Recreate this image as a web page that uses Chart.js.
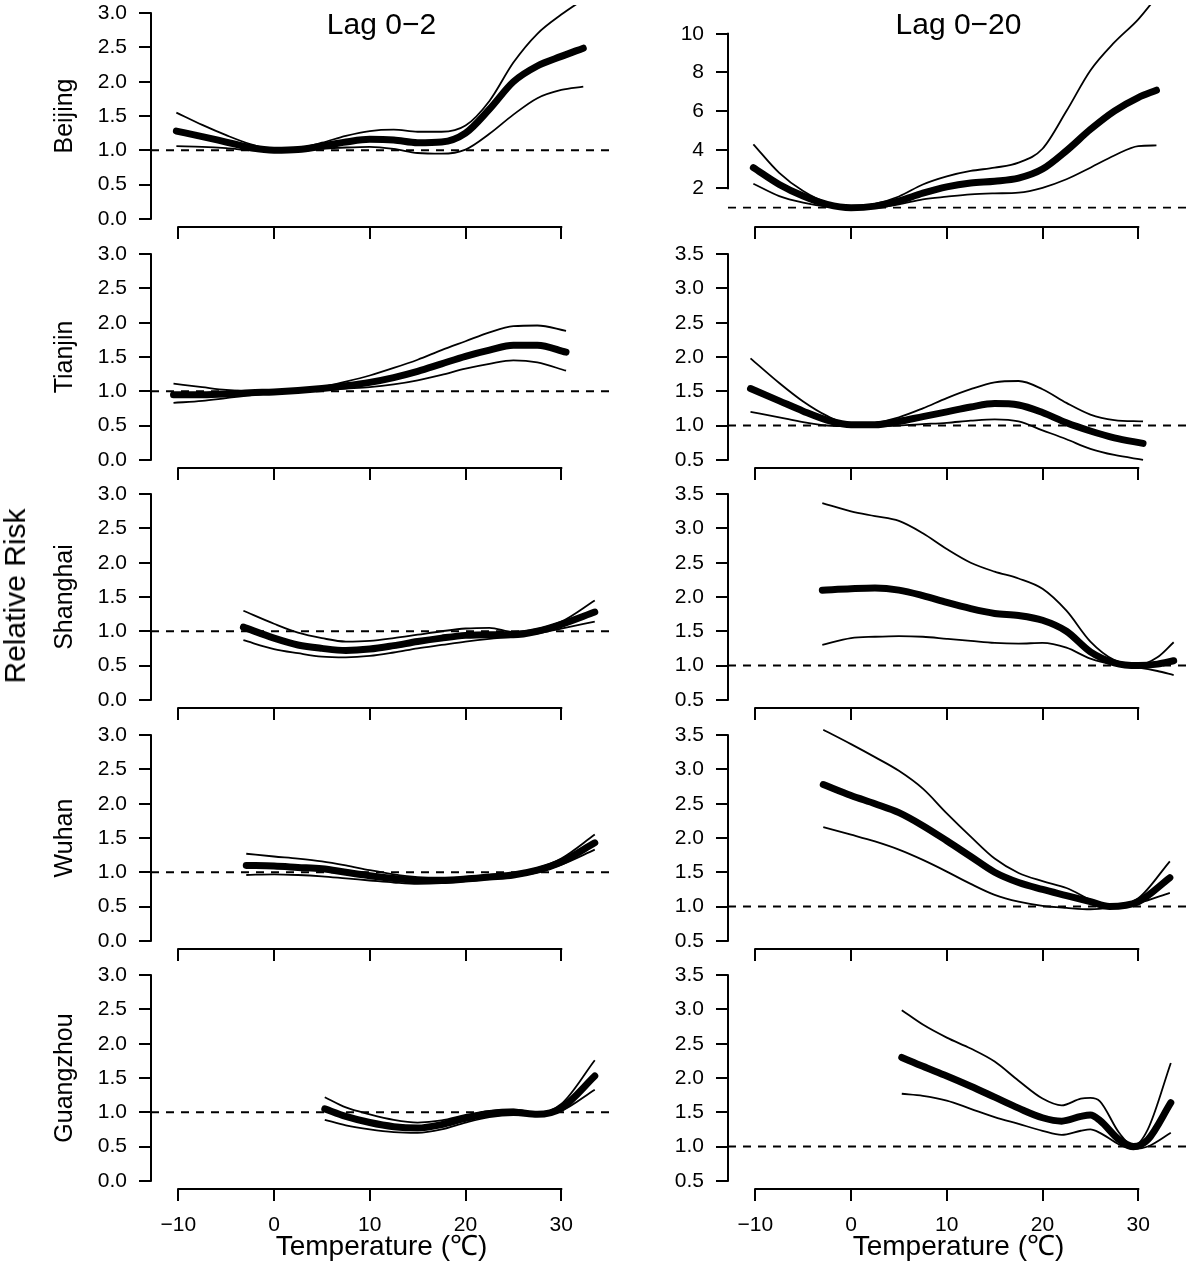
<!DOCTYPE html>
<html>
<head>
<meta charset="utf-8">
<script src="https://cdn.jsdelivr.net/npm/chart.js@4.4.1/dist/chart.umd.min.js"></script>
<style>
  body { margin: 0; background: #fff; }
  #fig { position: relative; width: 1200px; height: 1266px; overflow: hidden; font-family: 'Liberation Sans', Arial, sans-serif; }
  #fig canvas { position: absolute; }
  .lbl { position: absolute; color: #000; white-space: nowrap; line-height: 1; transform: translate(-50%, -50%); }
</style>
</head>
<body>
<div id="fig">
  <div class="lbl" style="left:381.5px; top:23.6px; font-size:30px;">Lag 0−2</div>
  <div class="lbl" style="left:958.5px; top:23.6px; font-size:30px;">Lag 0−20</div>
  <div class="lbl" style="left:14.5px; top:596px; font-size:30px; transform: translate(-50%, -50%) rotate(-90deg);">Relative Risk</div>
</div>
<script>
// tick labels
const tempTicks = [-10, 0, 10, 20, 30];
const rrTicksLag02 = [0, 0.5, 1, 1.5, 2, 2.5, 3];
const rrTicksLag020 = [0.5, 1, 1.5, 2, 2.5, 3, 3.5];
const rrTicksBeijing020 = [2, 4, 6, 8, 10];
const cities = ['Beijing', 'Tianjin', 'Shanghai', 'Wuhan', 'Guangzhou'];

// Beijing
const bjTemp02 = [-10.2, -7.5, -5, -2.5, 0, 2.5, 5, 7.5, 10, 12.5, 15, 17.5, 20, 22.5, 25, 27.5, 30, 32.3];
const bjRR02 = [1.28, 1.2, 1.12, 1.04, 1.0, 1.01, 1.06, 1.12, 1.16, 1.15, 1.11, 1.12, 1.25, 1.6, 2.0, 2.23, 2.37, 2.49];
const bjHigh02 = [1.55, 1.37, 1.22, 1.09, 1.01, 1.03, 1.11, 1.21, 1.28, 1.3, 1.27, 1.27, 1.36, 1.72, 2.28, 2.7, 2.98, 3.2];
const bjLow02 = [1.06, 1.05, 1.03, 1.0, 0.99, 0.99, 1.02, 1.04, 1.05, 1.02, 0.96, 0.95, 1.01, 1.24, 1.52, 1.76, 1.88, 1.93];
const bjTemp020 = [-10.2, -7.5, -5, -2.5, 0, 2.5, 5, 7.5, 10, 12.5, 15, 17.5, 20, 22.5, 25, 27.5, 30, 31.9];
const bjRR020 = [3.07, 2.2, 1.6, 1.17, 1.0, 1.08, 1.35, 1.75, 2.08, 2.28, 2.37, 2.53, 3.0, 3.95, 5.05, 6.0, 6.7, 7.08];
const bjHigh020 = [4.28, 2.8, 1.86, 1.26, 1.05, 1.2, 1.58, 2.2, 2.62, 2.9, 3.07, 3.33, 4.05, 6.0, 8.1, 9.55, 10.75, 11.9];
const bjLow020 = [2.24, 1.6, 1.26, 1.05, 0.97, 1.0, 1.17, 1.43, 1.57, 1.69, 1.74, 1.78, 2.03, 2.47, 3.07, 3.7, 4.19, 4.22];

// Tianjin
const tjTemp02 = [-10.5, -7.5, -5, -2.5, 0, 2.5, 5, 7.5, 10, 12.5, 15, 17.5, 20, 22.5, 25, 27.5, 30.5];
const tjRR02 = [0.95, 0.95, 0.96, 0.98, 0.99, 1.01, 1.04, 1.08, 1.13, 1.2, 1.29, 1.4, 1.51, 1.6, 1.67, 1.67, 1.57];
const tjHigh02 = [1.11, 1.06, 1.02, 1.0, 1.0, 1.02, 1.06, 1.14, 1.23, 1.34, 1.46, 1.6, 1.73, 1.86, 1.95, 1.96, 1.88];
const tjLow02 = [0.83, 0.86, 0.9, 0.94, 0.97, 1.0, 1.02, 1.04, 1.06, 1.1, 1.16, 1.24, 1.33, 1.4, 1.45, 1.42, 1.3];
const tjTemp020 = [-10.5, -7.5, -5, -2.5, 0, 2.5, 5, 7.5, 10, 12.5, 15, 17.5, 20, 22.5, 25, 27.5, 30.5];
const tjRR020 = [1.54, 1.36, 1.21, 1.08, 1.01, 1.01, 1.06, 1.13, 1.2, 1.27, 1.32, 1.3, 1.19, 1.04, 0.92, 0.82, 0.74];
const tjHigh020 = [1.98, 1.62, 1.35, 1.14, 1.02, 1.04, 1.12, 1.25, 1.4, 1.53, 1.63, 1.65, 1.53, 1.33, 1.16, 1.08, 1.06];
const tjLow020 = [1.2, 1.12, 1.05, 1.0, 0.99, 0.99, 1.0, 1.02, 1.04, 1.07, 1.09, 1.06, 0.93, 0.8, 0.66, 0.57, 0.5];

// Shanghai
const shTemp02 = [-3.2, 0, 2.5, 5, 7.5, 10, 12.5, 15, 17.5, 20, 22.5, 25, 27.5, 30, 33.5];
const shRR02 = [1.06, 0.9, 0.8, 0.75, 0.72, 0.74, 0.79, 0.85, 0.9, 0.94, 0.95, 0.95, 1.0, 1.1, 1.28];
const shHigh02 = [1.3, 1.11, 0.98, 0.9, 0.85, 0.86, 0.9, 0.95, 1.0, 1.04, 1.05, 0.99, 1.03, 1.14, 1.45];
const shLow02 = [0.87, 0.74, 0.68, 0.63, 0.62, 0.64, 0.69, 0.75, 0.8, 0.85, 0.89, 0.92, 0.97, 1.04, 1.14];
const shTemp020 = [-3, 0, 2.5, 5, 7.5, 10, 12.5, 15, 17.5, 20, 22.5, 25, 27.5, 30, 32, 33.7];
const shRR020 = [2.1, 2.12, 2.13, 2.1, 2.02, 1.92, 1.83, 1.76, 1.73, 1.66, 1.5, 1.2, 1.04, 1.0, 1.02, 1.07];
const shHigh020 = [3.37, 3.25, 3.18, 3.11, 2.93, 2.7, 2.5, 2.37, 2.27, 2.12, 1.8, 1.35, 1.08, 1.01, 1.12, 1.34];
const shLow020 = [1.3, 1.4, 1.42, 1.43, 1.42, 1.39, 1.36, 1.33, 1.32, 1.33, 1.26, 1.1, 1.01, 0.97, 0.92, 0.86];

// Wuhan
const whTemp02 = [-2.9, 0, 2.5, 5, 7.5, 10, 12.5, 15, 17.5, 20, 22.5, 25, 27.5, 30, 33.5];
const whRR02 = [1.1, 1.09, 1.07, 1.05, 1.0, 0.95, 0.91, 0.88, 0.88, 0.9, 0.93, 0.96, 1.03, 1.15, 1.43];
const whHigh02 = [1.27, 1.23, 1.2, 1.16, 1.1, 1.03, 0.97, 0.93, 0.92, 0.93, 0.96, 0.99, 1.06, 1.2, 1.55];
const whLow02 = [0.96, 0.97, 0.96, 0.94, 0.91, 0.88, 0.85, 0.83, 0.84, 0.87, 0.9, 0.94, 1.0, 1.11, 1.33];
const whTemp020 = [-2.9, 0, 2.5, 5, 7.5, 10, 12.5, 15, 17.5, 20, 22.5, 25, 27, 30, 33.3];
const whRR020 = [2.78, 2.62, 2.5, 2.37, 2.18, 1.96, 1.73, 1.5, 1.35, 1.25, 1.16, 1.07, 1.0, 1.07, 1.42];
const whHigh020 = [3.58, 3.37, 3.18, 2.98, 2.72, 2.36, 2.02, 1.7, 1.49, 1.37, 1.27, 1.1, 0.99, 1.12, 1.66];
const whLow020 = [2.16, 2.05, 1.95, 1.83, 1.68, 1.51, 1.33, 1.17, 1.07, 1.01, 0.98, 0.96, 0.98, 1.05, 1.2];

// Guangzhou
const gzTemp02 = [5.3, 7.5, 10, 12.5, 15, 17.5, 20, 22.5, 25, 27.5, 30, 33.5];
const gzRR02 = [1.05, 0.94, 0.85, 0.79, 0.77, 0.82, 0.91, 0.98, 1.0, 0.97, 1.06, 1.53];
const gzHigh02 = [1.22, 1.07, 0.97, 0.89, 0.85, 0.88, 0.96, 1.02, 1.04, 0.99, 1.12, 1.76];
const gzLow02 = [0.89, 0.81, 0.75, 0.71, 0.7, 0.75, 0.85, 0.93, 0.96, 0.95, 1.02, 1.33];
const gzTemp020 = [5.3, 7.5, 10, 12.5, 15, 17.5, 20, 22, 24, 25, 26, 28, 29.5, 31, 33.4];
const gzRR020 = [2.3, 2.17, 2.03, 1.88, 1.72, 1.56, 1.42, 1.37, 1.44, 1.46, 1.38, 1.1, 1.0, 1.1, 1.64];
const gzHigh020 = [2.99, 2.78, 2.59, 2.43, 2.24, 1.96, 1.7, 1.6, 1.7, 1.71, 1.66, 1.2, 1.01, 1.25, 2.22];
const gzLow020 = [1.77, 1.74, 1.67, 1.55, 1.43, 1.33, 1.23, 1.17, 1.23, 1.25, 1.2, 1.03, 0.96, 1.0, 1.2];

// reference level (RR = 1)
const refRR = 1;

Chart.defaults.font.family = "'Liberation Sans', Arial, sans-serif";
Chart.defaults.color = '#000';

const X_MIN = -12.85, X_MAX = 35.3;

const panels = [
  { row: 0, col: 0, t: bjTemp02, rr: bjRR02, hi: bjHigh02, lo: bjLow02, ticks: rrTicksLag02, yMin: -0.12, yMax: 3.12 },
  { row: 0, col: 1, t: bjTemp020, rr: bjRR020, hi: bjHigh020, lo: bjLow020, ticks: rrTicksBeijing020, yMin: 0, yMax: 11.49 },
  { row: 1, col: 0, t: tjTemp02, rr: tjRR02, hi: tjHigh02, lo: tjLow02, ticks: rrTicksLag02, yMin: -0.12, yMax: 3.12 },
  { row: 1, col: 1, t: tjTemp020, rr: tjRR020, hi: tjHigh020, lo: tjLow020, ticks: rrTicksLag020, yMin: 0.38, yMax: 3.62 },
  { row: 2, col: 0, t: shTemp02, rr: shRR02, hi: shHigh02, lo: shLow02, ticks: rrTicksLag02, yMin: -0.12, yMax: 3.12 },
  { row: 2, col: 1, t: shTemp020, rr: shRR020, hi: shHigh020, lo: shLow020, ticks: rrTicksLag020, yMin: 0.38, yMax: 3.62 },
  { row: 3, col: 0, t: whTemp02, rr: whRR02, hi: whHigh02, lo: whLow02, ticks: rrTicksLag02, yMin: -0.12, yMax: 3.12 },
  { row: 3, col: 1, t: whTemp020, rr: whRR020, hi: whHigh020, lo: whLow020, ticks: rrTicksLag020, yMin: 0.38, yMax: 3.62 },
  { row: 4, col: 0, t: gzTemp02, rr: gzRR02, hi: gzHigh02, lo: gzLow02, ticks: rrTicksLag02, yMin: -0.12, yMax: 3.12 },
  { row: 4, col: 1, t: gzTemp020, rr: gzRR020, hi: gzHigh020, lo: gzLow020, ticks: rrTicksLag020, yMin: 0.38, yMax: 3.62 }
];

const pts = (t, v) => t.map((x, i) => ({ x: x, y: v[i] }));

// R-style axis lines: only from first to last tick
const rAxes = {
  id: 'rAxes',
  afterDraw(chart) {
    const { ctx, chartArea, scales: { x, y } } = chart;
    const xt = x.ticks, yt = y.ticks;
    ctx.save();
    ctx.strokeStyle = '#000';
    ctx.lineWidth = 2;
    ctx.lineCap = 'square';
    ctx.beginPath();
    ctx.moveTo(x.getPixelForValue(xt[0].value), chartArea.bottom);
    ctx.lineTo(x.getPixelForValue(xt[xt.length - 1].value), chartArea.bottom);
    ctx.moveTo(chartArea.left, y.getPixelForValue(yt[0].value));
    ctx.lineTo(chartArea.left, y.getPixelForValue(yt[yt.length - 1].value));
    ctx.stroke();
    ctx.restore();
  }
};

const fig = document.getElementById('fig');

panels.forEach(p => {
  const isLeft = p.col === 0;
  const isBottom = p.row === 4;
  const canvas = document.createElement('canvas');
  canvas.width = isLeft ? 630 : 570;
  canvas.height = isBottom ? 304 : 240;
  canvas.style.left = (isLeft ? 0 : 630) + 'px';
  canvas.style.top = Math.round(240.5 * p.row) + 'px';
  fig.insertBefore(canvas, fig.firstChild);

  const yWidth = isLeft ? 151 : 98;
  const xHeight = canvas.height - 227;
  const fmtY = p.ticks === rrTicksBeijing020 ? (v => String(v)) : (v => v.toFixed(1));

  new Chart(canvas, {
    type: 'line',
    data: {
      datasets: [
        { data: pts(p.t, p.rr), borderColor: '#000', borderWidth: 7, borderCapStyle: 'round', borderJoinStyle: 'round' },
        { data: pts(p.t, p.hi), borderColor: '#000', borderWidth: 1.8 },
        { data: pts(p.t, p.lo), borderColor: '#000', borderWidth: 1.8 },
        { data: [{ x: X_MIN, y: refRR }, { x: X_MAX, y: refRR }], borderColor: '#000', borderWidth: 1.8, borderDash: [8, 7], cubicInterpolationMode: 'default', tension: 0 }
      ]
    },
    options: {
      responsive: false,
      animation: false,
      events: [],
      layout: { padding: { top: 5, right: isLeft ? 18 : 11, left: 0, bottom: 0 } },
      elements: {
        point: { radius: 0 },
        line: { cubicInterpolationMode: 'monotone', fill: false }
      },
      plugins: { legend: { display: false }, tooltip: { enabled: false } },
      scales: {
        x: {
          type: 'linear',
          min: X_MIN,
          max: X_MAX,
          afterBuildTicks: s => { s.ticks = tempTicks.map(v => ({ value: v })); },
          afterFit: s => { s.height = xHeight; s.paddingLeft = 0; s.paddingRight = 0; },
          grid: { drawOnChartArea: false, drawTicks: true, tickLength: 12, color: '#000', lineWidth: 2 },
          border: { display: false },
          ticks: {
            display: isBottom,
            autoSkip: false,
            maxRotation: 0,
            padding: 12,
            font: { size: 21 },
            callback: v => v < 0 ? '\u2212' + Math.abs(v) : String(v)
          },
          title: { display: isBottom, text: 'Temperature (℃)', font: { size: 28 }, padding: { top: 0, bottom: 2 } }
        },
        y: {
          type: 'linear',
          min: p.yMin,
          max: p.yMax,
          afterBuildTicks: s => { s.ticks = p.ticks.map(v => ({ value: v })); },
          afterFit: s => { s.width = yWidth; s.paddingTop = 0; s.paddingBottom = 0; },
          grid: { drawOnChartArea: false, drawTicks: true, tickLength: 12, color: '#000', lineWidth: 2 },
          border: { display: false },
          ticks: { autoSkip: false, padding: 12, font: { size: 21 }, callback: fmtY },
          title: { display: isLeft, text: cities[p.row], font: { size: 25 }, padding: { top: 50, bottom: 0 } }
        }
      }
    },
    plugins: [rAxes]
  });
});
</script>
</body>
</html>
